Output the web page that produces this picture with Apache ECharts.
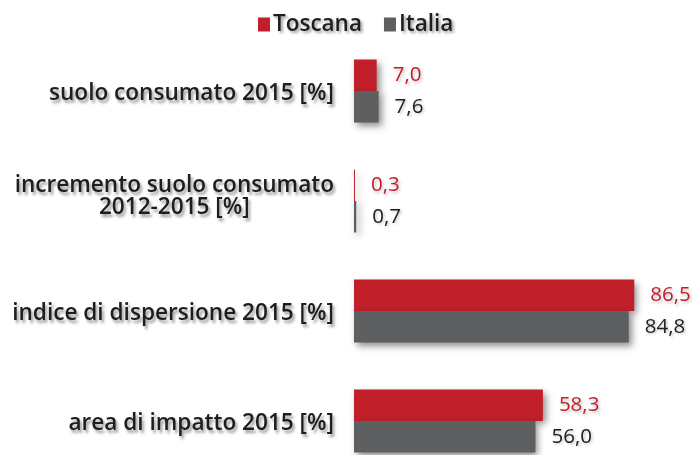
<!DOCTYPE html>
<html>
<head>
<meta charset="utf-8">
<script src="https://cdn.jsdelivr.net/npm/echarts@6/dist/echarts.min.js"></script>
<style>
  html, body { margin: 0; padding: 0; background: #ffffff; }
  #chart { width: 699px; height: 455px; }
</style>
</head>
<body>
<div id="chart"></div>
<script>
// Indicators of land consumption, Tuscany vs Italy
const categories = [
  'suolo consumato 2015 [%]',
  'incremento suolo consumato\n2012-2015 [%]',
  'indice di dispersione 2015 [%]',
  'area di impatto 2015 [%]'
];
const seriesNames = ['Toscana', 'Italia'];
const toscana = [7.0, 0.3, 86.5, 58.3];
const italia = [7.6, 0.7, 84.8, 56.0];

const RED = '#c1202b';
const GREY = '#5e5f61';
const INK = '#1e1e1e';
const FONT = '"Open Sans", "DejaVu Sans", sans-serif';
const LABEL_SIZE = 22.6;

const fmt = p => p.value.toFixed(1).replace('.', ',');

const labelFor = color => ({
  show: true,
  position: 'right',
  distance: 16,
  formatter: fmt,
  color: color,
  fontFamily: FONT,
  fontSize: 20.5,
  textShadowColor: 'rgba(0,0,0,0.25)',
  textShadowBlur: 3,
  textShadowOffsetX: 1.5,
  textShadowOffsetY: 1.5
});

const barShadow = {
  shadowColor: 'rgba(0,0,0,0.45)',
  shadowBlur: 7,
  shadowOffsetX: 3,
  shadowOffsetY: 3
};

const textShadow = {
  textShadowColor: 'rgba(0,0,0,0.4)',
  textShadowBlur: 3,
  textShadowOffsetX: 2,
  textShadowOffsetY: 2.5
};

const richBase = {
  align: 'center',
  fontFamily: FONT,
  fontWeight: 600,
  fontSize: LABEL_SIZE,
  lineHeight: 22,
  color: INK
};

// single-line labels sit a little low; the two-line one gets a short
// blank trailing line so its block rides a little high
const categoryLabel = v => {
  const lines = v.split('\n');
  if (lines.length === 1) return '{one|' + v + '}';
  return lines.map(s => '{c|' + s + '}').join('\n') + '\n{gap| }';
};

const chart = echarts.init(document.getElementById('chart'), null, { renderer: 'canvas' });
chart.setOption({
  animation: false,
  backgroundColor: '#ffffff',
  legend: {
    top: 8,
    left: 253,
    itemWidth: 12,
    itemHeight: 14,
    itemGap: 22,
    icon: 'rect',
    data: seriesNames,
    textStyle: Object.assign({
      fontFamily: FONT,
      fontWeight: 600,
      fontSize: 22.5,
      color: INK,
      padding: [0, 0, 0, -2]
    }, textShadow)
  },
  grid: {
    left: 354, right: 21, top: 36, bottom: -21,
    containLabel: false,
    outerBoundsMode: 'none'
  },
  xAxis: {
    type: 'value',
    min: 0,
    max: 100,
    show: false
  },
  yAxis: {
    type: 'category',
    inverse: true,
    data: categories,
    axisLine: { show: false },
    axisTick: { show: false },
    splitLine: { show: false },
    axisLabel: Object.assign({
      margin: 20,
      align: 'right',
      fontFamily: FONT,
      fontWeight: 600,
      fontSize: LABEL_SIZE,
      lineHeight: 22,
      color: INK,
      formatter: categoryLabel,
      rich: {
        c: Object.assign({}, richBase),
        gap: Object.assign({}, richBase, { fontSize: 6, lineHeight: 8 }),
        one: Object.assign({}, richBase, { padding: [6, 0, 0, 0] })
      }
    }, textShadow)
  },
  series: [
    {
      name: seriesNames[0],
      type: 'bar',
      data: toscana,
      barWidth: 31.5,
      barGap: '0%',
      itemStyle: Object.assign({ color: RED }, barShadow),
      label: labelFor(RED)
    },
    {
      name: seriesNames[1],
      type: 'bar',
      data: italia,
      barWidth: 31.5,
      barGap: '0%',
      itemStyle: Object.assign({ color: GREY }, barShadow),
      label: labelFor(INK)
    }
  ]
});
</script>
</body>
</html>
